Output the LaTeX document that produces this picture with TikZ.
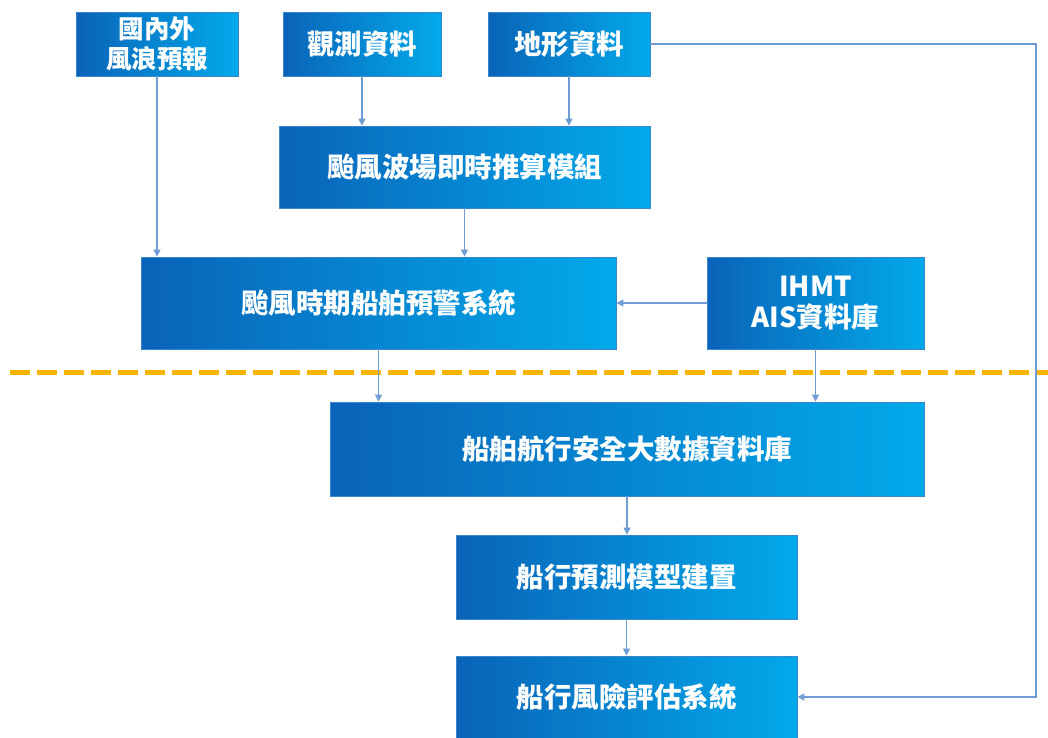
\documentclass[tikz,border=0pt]{standalone}
\usepackage{fontspec}
\setmainfont{Noto Sans CJK TC}
\usetikzlibrary{arrows.meta}
\definecolor{boxL}{HTML}{0A63B8}
\definecolor{boxR}{HTML}{02A9EA}
\definecolor{boxB}{HTML}{3A86CC}
\definecolor{arr}{HTML}{6F9CD2}
\definecolor{sepcol}{HTML}{F7B500}
\tikzset{
  blk/.style={rectangle, draw=boxB, line width=0.8pt, left color=boxL, right color=boxR,
    text=white, font=\bfseries\fontsize{27.5}{31}\selectfont, inner sep=0pt, align=center},
  conn/.style={draw=arr, line width=1.2pt, -{Triangle[width=7pt,length=7pt]}},
  sepline/.style={draw=sepcol, line width=5pt, dash pattern=on 20pt off 7pt},
}
\begin{document}
\begin{tikzpicture}[x=1pt,y=-1pt]
\useasboundingbox (0,0) rectangle (1048,737);
\node[blk, minimum width=162pt, minimum height=64pt, font=\bfseries\fontsize{25.5}{30}\selectfont] (ext) at (157,44) {國內外\\風浪預報};
\node[blk, minimum width=158pt, minimum height=64pt] (obs) at (362,44) {觀測資料};
\node[blk, minimum width=162pt, minimum height=64pt] (topo) at (569,44) {地形資料};
\node[blk, minimum width=371pt, minimum height=82pt] (wave) at (464.5,167) {颱風波場即時推算模組};
\node[blk, minimum width=475pt, minimum height=92pt] (warn) at (378.5,303) {颱風時期船舶預警系統};
\node[blk, minimum width=217pt, minimum height=92pt] (ais) at (815.5,303) {IHMT\\AIS資料庫};
\node[blk, minimum width=594pt, minimum height=94pt] (big) at (627,449) {船舶航行安全大數據資料庫};
\node[blk, minimum width=341pt, minimum height=84pt] (pred) at (626.5,577) {船行預測模型建置};
\node[blk, minimum width=341pt, minimum height=82pt] (risk) at (626.5,697) {船行風險評估系統};
\coordinate (sepA) at (10,372);
\coordinate (sepB) at (1048,372);
\draw[sepline] (sepA) -- (sepB);
\coordinate (turn) at (1036,44);
\draw[conn] (ext.south) -- (ext.south |- warn.north);
\draw[conn] (obs.south) -- (obs.south |- wave.north);
\draw[conn] (topo.south) -- (topo.south |- wave.north);
\draw[conn] (wave.south) -- (wave.south |- warn.north);
\draw[conn] (ais.west) -- (warn.east);
\draw[conn] (warn.south) -- (warn.south |- big.north);
\draw[conn] (ais.south) -- (ais.south |- big.north);
\draw[conn] (big.south) -- (big.south |- pred.north);
\draw[conn] (pred.south) -- (risk.north);
\draw[conn] (topo.east) -- (turn) -- (turn |- risk.east) -- (risk.east);
\end{tikzpicture}
\end{document}
